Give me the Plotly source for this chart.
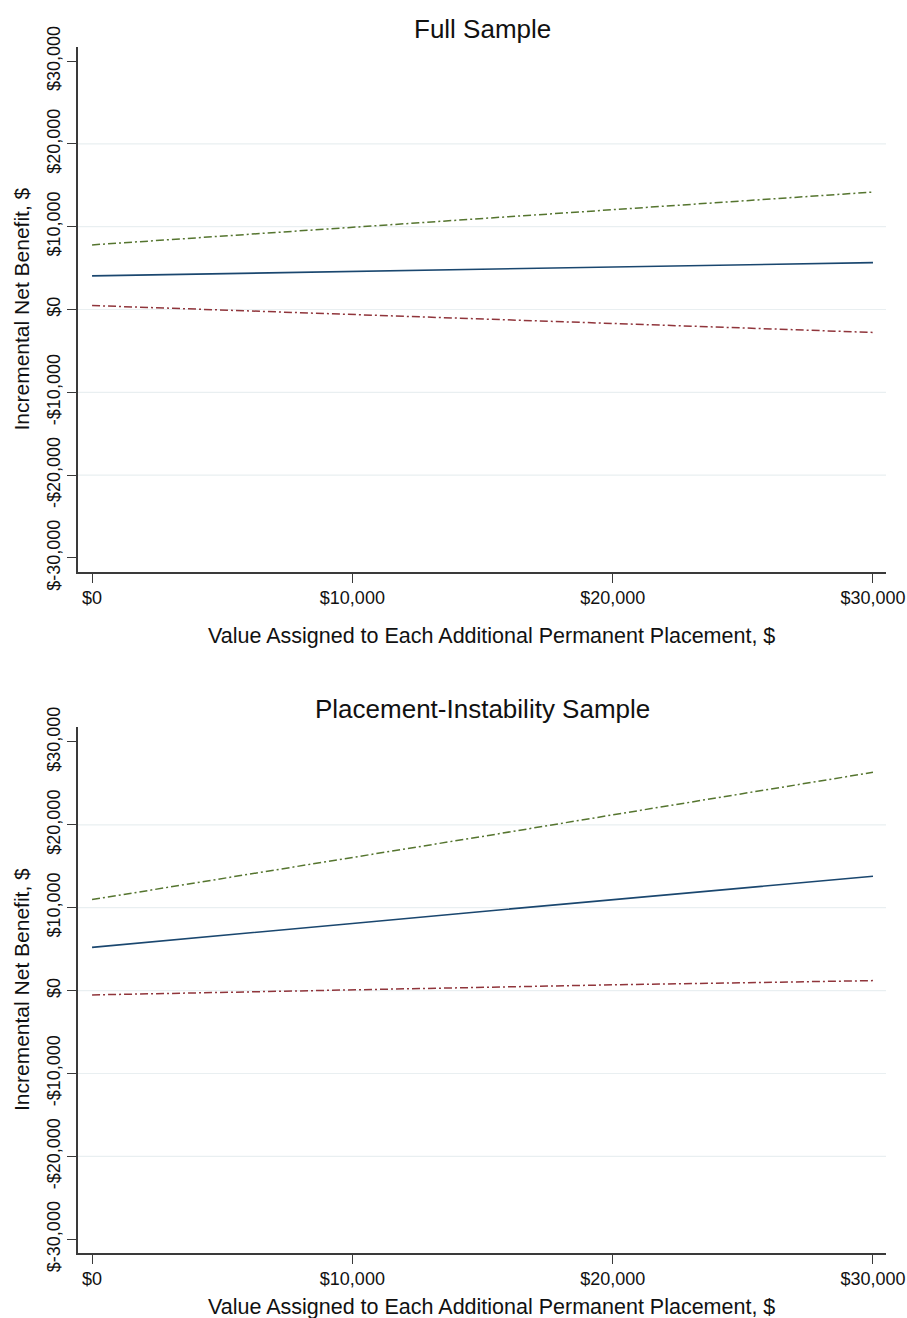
import plotly.graph_objects as go
from plotly.subplots import make_subplots

# ---- data ----
x_vals = [0, 5000, 10000, 15000, 20000, 25000, 30000]

full_inb = [4060, 4330, 4600, 4860, 5130, 5400, 5660]
full_upper = [7800, 8870, 9930, 11000, 12060, 13120, 14180]
full_lower = [480, -60, -600, -1150, -1690, -2230, -2770]

inst_inb = [5220, 6700, 8100, 9550, 10950, 12400, 13790]
inst_upper = [10980, 13500, 16000, 18600, 21200, 23800, 26330]
inst_lower = [-520, -200, 100, 400, 700, 950, 1206]

x_ticks = [0, 10000, 20000, 30000]
x_ticklabels = ["$0", "$10,000", "$20,000", "$30,000"]
y_ticks = [-30000, -20000, -10000, 0, 10000, 20000, 30000]
y_ticklabels = ["$-30,000", "-$20,000", "-$10,000", "$0", "$10,000", "$20,000", "$30,000"]
grid_vals = [-20000, -10000, 0, 10000, 20000]

titles = ["Full Sample", "Placement-Instability Sample"]
x_title = "Value Assigned to Each Additional Permanent Placement, $"
y_title = "Incremental Net Benefit, $"

# ---- style ----
W, H = 907, 1318
ML, MR = 78, 21
NAVY = "#1a476f"
MAROON = "#90353b"
GREEN = "#55752f"
AXIS = "#3a3a3a"
GRID = "#e9eff1"
FONT = "Liberation Sans, Arial, Helvetica, sans-serif"
DASH = "8px,3px,2px,3px"

def py(px):
    return 1 - px / H

fig = make_subplots(rows=2, cols=1)

# (plot top px, plot bottom px, x-title centre px, y range)
panels = [
    (full_inb, full_upper, full_lower, (47, 572), 636, [-31700, 31700]),
    (inst_inb, inst_upper, inst_lower, (727, 1253), 1307, [-31650, 31800]),
]

for i, (inb, up, lo, (top, bot), xt_y, yr) in enumerate(panels, start=1):
    fig.add_trace(go.Scatter(x=x_vals, y=up, mode="lines",
                             line=dict(color=GREEN, width=1.5, dash=DASH),
                             showlegend=False, hoverinfo="skip"), row=i, col=1)
    fig.add_trace(go.Scatter(x=x_vals, y=inb, mode="lines",
                             line=dict(color=NAVY, width=1.6),
                             showlegend=False, hoverinfo="skip"), row=i, col=1)
    fig.add_trace(go.Scatter(x=x_vals, y=lo, mode="lines",
                             line=dict(color=MAROON, width=1.5, dash=DASH),
                             showlegend=False, hoverinfo="skip"), row=i, col=1)
    sfx = "" if i == 1 else str(i)
    fig.update_layout(**{
        f"xaxis{sfx}": dict(domain=[0, 1], range=[-540, 30500],
                            tickvals=x_ticks, ticktext=x_ticklabels,
                            showgrid=False, zeroline=False, automargin=False,
                            showline=True, linecolor=AXIS, linewidth=1.5,
                            ticks="outside", ticklen=9, tickcolor=AXIS, tickwidth=1.3,
                            tickfont=dict(size=18, color="#111"), fixedrange=True),
        f"yaxis{sfx}": dict(domain=[py(bot), py(top)], range=yr,
                            tickvals=y_ticks, ticktext=y_ticklabels, tickangle=-90,
                            showgrid=False, zeroline=False, automargin=False,
                            showline=True, linecolor=AXIS, linewidth=1.5,
                            ticks="outside", ticklen=9, tickcolor=AXIS, tickwidth=1.3,
                            tickfont=dict(size=18, color="#111"), fixedrange=True),
    })
    xref = "x" if i == 1 else "x2"
    yref = "y" if i == 1 else "y2"
    for g in grid_vals:
        fig.add_shape(type="line", xref=f"{xref} domain", yref=yref,
                      x0=0, x1=1, y0=g, y1=g,
                      line=dict(color=GRID, width=1.2), layer="below")
    # panel title
    fig.add_annotation(text=titles[i - 1], xref="paper", yref="paper",
                       x=0.5, y=py(top - 18), xanchor="center", yanchor="middle",
                       showarrow=False, font=dict(size=26, color="#111"))
    # x-axis title
    fig.add_annotation(text=x_title, xref="paper", yref="paper",
                       x=(491 - ML) / (W - ML - MR), y=py(xt_y),
                       xanchor="center", yanchor="middle",
                       showarrow=False, font=dict(size=21.5, color="#111"))
    # y-axis title
    fig.add_annotation(text=y_title, xref="paper", yref="paper",
                       x=(21 - ML) / (W - ML - MR), y=py((top + bot) / 2),
                       xanchor="center", yanchor="middle", textangle=-90,
                       showarrow=False, font=dict(size=21, color="#111"))

fig.update_layout(width=W, height=H,
                  margin=dict(l=ML, r=MR, t=0, b=0, autoexpand=False),
                  paper_bgcolor="white", plot_bgcolor="white",
                  font=dict(family=FONT, color="#111"))

fig.write_html("out.html", config={"displayModeBar": False},
               post_script="document.body.style.margin='0';"
                           "document.body.style.overflow='hidden';")
